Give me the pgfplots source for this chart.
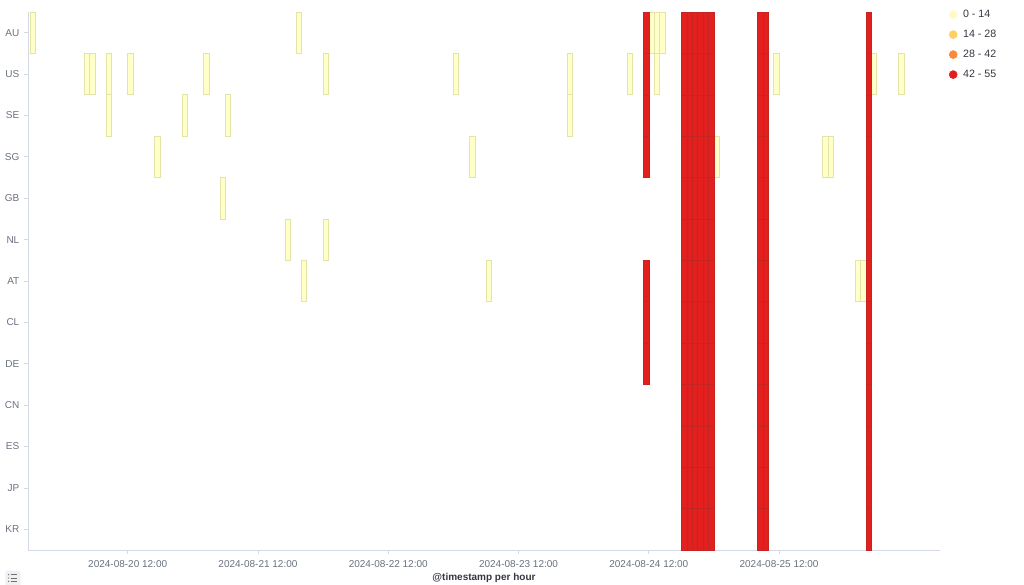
\documentclass[border=0pt]{standalone}
\usepackage{pgfplots}
\usepackage{pgfplotstable}
\pgfplotsset{compat=1.18}
\usepackage{fontspec}
\setmainfont{Liberation Sans}
\definecolor{ylw}{RGB}{255,255,200}
\definecolor{ylwb}{RGB}{228,228,168}
\definecolor{rd}{RGB}{228,32,30}
\definecolor{rdb}{RGB}{196,36,34}
\definecolor{c1}{RGB}{255,250,196}
\definecolor{c2}{RGB}{254,208,100}
\definecolor{c3}{RGB}{250,137,58}
\definecolor{c4}{RGB}{226,30,30}
\definecolor{tickc}{RGB}{105,112,125}
\definecolor{axl}{RGB}{211,218,230}
\definecolor{ttl}{RGB}{52,55,65}
\pgfdeclareplotmark{cell}{%
  \pgfpathrectangle{\pgfpoint{-2.0357pt}{-15.519pt}}{\pgfpoint{4.0714pt}{31.038pt}}%
  \pgfusepathqfillstroke}
% h = hour bucket start (hours after 2024-08-20 00:00), y = row (AU=12 ... KR=0)
\pgfplotstableread{
h y
-6 12
43 12
108 12
109 12
110 12
4 11
5 11
8 11
12 11
26 11
48 11
72 11
93 11
104 11
109 11
131 11
149 11
154 11
8 10
22 10
30 10
93 10
17 9
75 9
120 9
140 9
141 9
29 8
41 7
48 7
44 6
78 6
146 6
147 6
}\yellowcells
\pgfplotstableread{
h y
107 12
107 11
107 10
107 9
107 6
107 5
107 4
114 12
114 11
114 10
114 9
114 8
114 7
114 6
114 5
114 4
114 3
114 2
114 1
114 0
115 12
115 11
115 10
115 9
115 8
115 7
115 6
115 5
115 4
115 3
115 2
115 1
115 0
116 12
116 11
116 10
116 9
116 8
116 7
116 6
116 5
116 4
116 3
116 2
116 1
116 0
117 12
117 11
117 10
117 9
117 8
117 7
117 6
117 5
117 4
117 3
117 2
117 1
117 0
118 12
118 11
118 10
118 9
118 8
118 7
118 6
118 5
118 4
118 3
118 2
118 1
118 0
119 12
119 11
119 10
119 9
119 8
119 7
119 6
119 5
119 4
119 3
119 2
119 1
119 0
128 12
128 11
128 10
128 9
128 8
128 7
128 6
128 5
128 4
128 3
128 2
128 1
128 0
129 12
129 11
129 10
129 9
129 8
129 7
129 6
129 5
129 4
129 3
129 2
129 1
129 0
148 12
148 11
148 10
148 9
148 8
148 7
148 6
148 5
148 4
148 3
148 2
148 1
148 0
}\redcells
\begin{document}
\begin{tikzpicture}
\begin{axis}[
  at={(0,0)}, anchor=south west,
  scale only axis, width=684pt, height=403.5pt,
  xmin=-6.36, xmax=161.64,
  ymin=-0.5, ymax=12.5,
  axis lines*=left,
  axis line style={axl, line width=0.6pt},
  xtick={12,36,60,84,108,132},
  xticklabels={2024-08-20 12:00,2024-08-21 12:00,2024-08-22 12:00,2024-08-23 12:00,2024-08-24 12:00,2024-08-25 12:00},
  ytick={0,1,2,3,4,5,6,7,8,9,10,11,12},
  yticklabels={KR,JP,ES,CN,DE,CL,AT,NL,GB,SG,SE,US,AU},
  tick align=outside, major tick length=3pt,
  tick style={axl, line width=0.6pt},
  ticklabel style={font=\fontsize{7.5}{9}\selectfont, text=tickc},
  xticklabel style={yshift=-1pt},
  xlabel={@timestamp per hour},
  xlabel style={font=\bfseries\fontsize{7.5}{9}\selectfont, text=ttl, at={(axis description cs:0.5,0)}, anchor=center, yshift=-21pt},
  legend style={at={(rel axis cs:1,1)}, anchor=north west, xshift=6.5pt, yshift=2pt,
    draw=none, fill=none, font=\fontsize{8}{9.6}\selectfont, text=ttl,
    row sep=7.5pt, inner sep=0pt, column sep=4.2pt,
    nodes={inner sep=0pt, text height=5.8pt, text depth=1.7pt}},
  legend cell align=left,
  legend image code/.code={\fill[#1] (3pt,0pt) circle (3pt);},
  clip=false,
]
\addplot[only marks, mark=cell, mark options={fill=ylw, draw=ylwb, line width=0.5pt}, forget plot]
  table[x expr=\thisrow{h}+0.5, y=y] {\yellowcells};
\addplot[only marks, mark=cell, mark options={fill=rd, draw=rdb, line width=0.3pt}, forget plot]
  table[x expr=\thisrow{h}+0.5, y=y] {\redcells};
\addlegendimage{c1}
\addlegendentry{0 - 14}
\addlegendimage{c2}
\addlegendentry{14 - 28}
\addlegendimage{c3}
\addlegendentry{28 - 42}
\addlegendimage{c4}
\addlegendentry{42 - 55}
\end{axis}
\fill[gray!12, rounded corners=1.5pt] (-17pt,-27pt) rectangle (-5.5pt,-15.5pt);
\foreach \yy in {-18.5,-21,-23.5} {
  \fill[tickc] (-14.5pt,\yy pt) circle (0.5pt);
  \draw[tickc, line width=0.6pt] (-13pt,\yy pt) -- (-8pt,\yy pt);
}
\pgfresetboundingbox
\path[use as bounding box] (-21pt,-26.25pt) rectangle (747pt,412.5pt);
\end{tikzpicture}
\end{document}
